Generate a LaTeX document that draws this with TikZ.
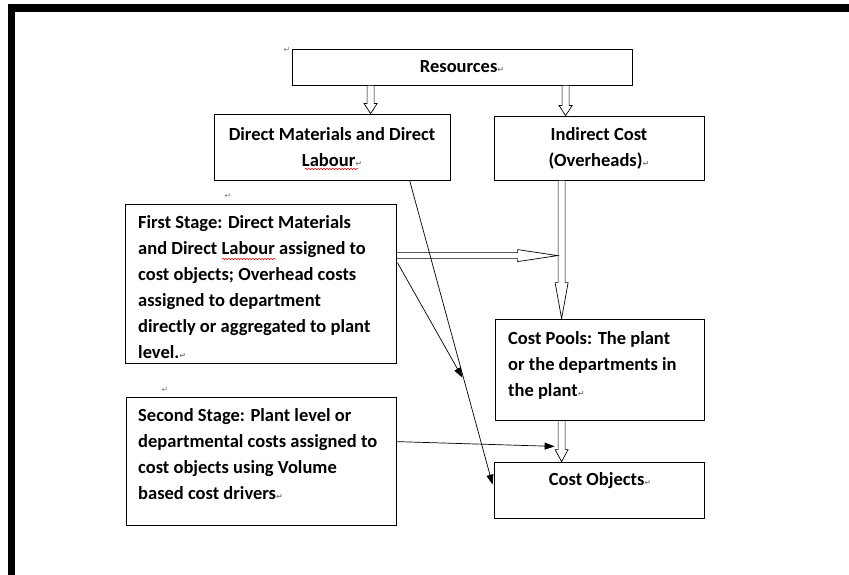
\documentclass[tikz,border=0pt]{standalone}
\usepackage{fontspec}
\setmainfont{Carlito}
\newfontfamily\dv{DejaVu Sans}
\usetikzlibrary{calc,arrows.meta,decorations.pathmorphing}
\newcommand\pmark{{\dv\fontsize{8}{8}\selectfont\color{gray}↵}}
\newcommand\vblk[3]{%
  \draw[blk] let \p1=(#1),\p2=(#2) in
    (\x1-3.5pt,\y1) -- (\x1-3.5pt,\y2+#3) -- (\x1-6.5pt,\y2+#3) -- (\x1,\y2)
    -- (\x1+6.5pt,\y2+#3) -- (\x1+3.5pt,\y2+#3) -- (\x1+3.5pt,\y1) -- cycle;}
\newcommand\hblk[3]{%
  \draw[blk] let \p1=(#1),\p2=(#2) in
    (\x1,\y1+3pt) -- (\x2-#3,\y1+3pt) -- (\x2-#3,\y1+6pt) -- (\x2,\y1)
    -- (\x2-#3,\y1-6pt) -- (\x2-#3,\y1-3pt) -- (\x1,\y1-3pt) -- cycle;}
\begin{document}
\begin{tikzpicture}[x=1pt,y=-1pt,
  box/.style={draw,line width=0.8pt,rectangle,inner sep=0pt},
  lbl/.style={font=\bfseries\fontsize{18.5}{26}\selectfont,inner sep=0pt},
  txt/.style={font=\bfseries\fontsize{18.5}{26}\selectfont,align=left,inner sep=0pt,anchor=north west},
  thinarr/.style={line width=0.7pt,-{Triangle[length=10pt,width=7pt]}},
  blk/.style={draw,fill=white,line width=0.7pt},
  wavy/.style={red,line width=0.5pt,decorate,decoration={snake,amplitude=0.8pt,segment length=3pt}},
  pm/.style={inner sep=0pt}]
\useasboundingbox (0,0) rectangle (849,575);
\fill[black] (8,4) rectangle (849,12);
\fill[black] (8,4) rectangle (15,575);

% boxes
\node[box,minimum width=340,minimum height=36,lbl] (res) at (462,67) {Resources\pmark};
\node[box,minimum width=236,minimum height=66,lbl,align=center] (dm) at (332,147)
  {Direct Materials and Direct\\Labour\pmark};
\node[box,minimum width=210,minimum height=64,lbl,align=center] (ic) at (599,148)
  {Indirect Cost\\(Overheads)\pmark};
\node[box,minimum width=271,minimum height=159] (fs) at (260.5,283.5) {};
\node[box,minimum width=209,minimum height=101] (cp) at (599.5,369.5) {};
\node[box,minimum width=270,minimum height=128] (ss) at (261,461) {};
\node[box,minimum width=210,minimum height=56] (co) at (599,490) {};

% texts
\node[txt] (fst) at (138,215) {First Stage: Direct Materials\\and Direct Labour assigned to\\cost objects; Overhead costs\\assigned to department\\directly or aggregated to plant\\level.\pmark};
\node[txt] (cpt) at (508,331) {Cost Pools: The plant\\or the departments in\\the plant\pmark};
\node[txt] (sst) at (138,408) {Second Stage: Plant level or\\departmental costs assigned to\\cost objects using Volume\\based cost drivers\pmark};
\node[lbl] (cot) at (600,481) {Cost Objects\pmark};

% paragraph marks
\node[pm] (p1) at (287,50) {\pmark};
\node[pm] (p2) at (228,196) {\pmark};
\node[pm] (p3) at (165,390) {\pmark};

% spelling squiggles
\draw[wavy] (305,169) -- (358,169);
\draw[wavy] (222,259) -- (276,259);

% block arrows
\vblk{$(res.south west)+(79,0)$}{dm.north}{10pt}
\vblk{$(res.south west)+(274,0)$}{ic.north}{10pt}
\vblk{$(ic.south west)+(68,0)$}{cp.north}{36pt}
\vblk{$(cp.south west)+(67,0)$}{co.north}{12pt}
\coordinate (hend) at ($(ic.south west)+(64,76)$);
\hblk{$(fs.north east)+(0,52)$}{hend}{40pt}

% thin arrows
\coordinate (fsend) at ($(fs.north east)+(66,174)$);
\coordinate (ssend) at ($(cp.south west)+(60,26)$);
\draw[thinarr] ($(dm.south west)+(196,0)$) -- ($(co.north west)+(-1,23)$);
\draw[thinarr] ($(fs.north east)+(1,59)$) -- (fsend);
\draw[thinarr] ($(ss.north east)+(0,45)$) -- (ssend);
\end{tikzpicture}
\end{document}
